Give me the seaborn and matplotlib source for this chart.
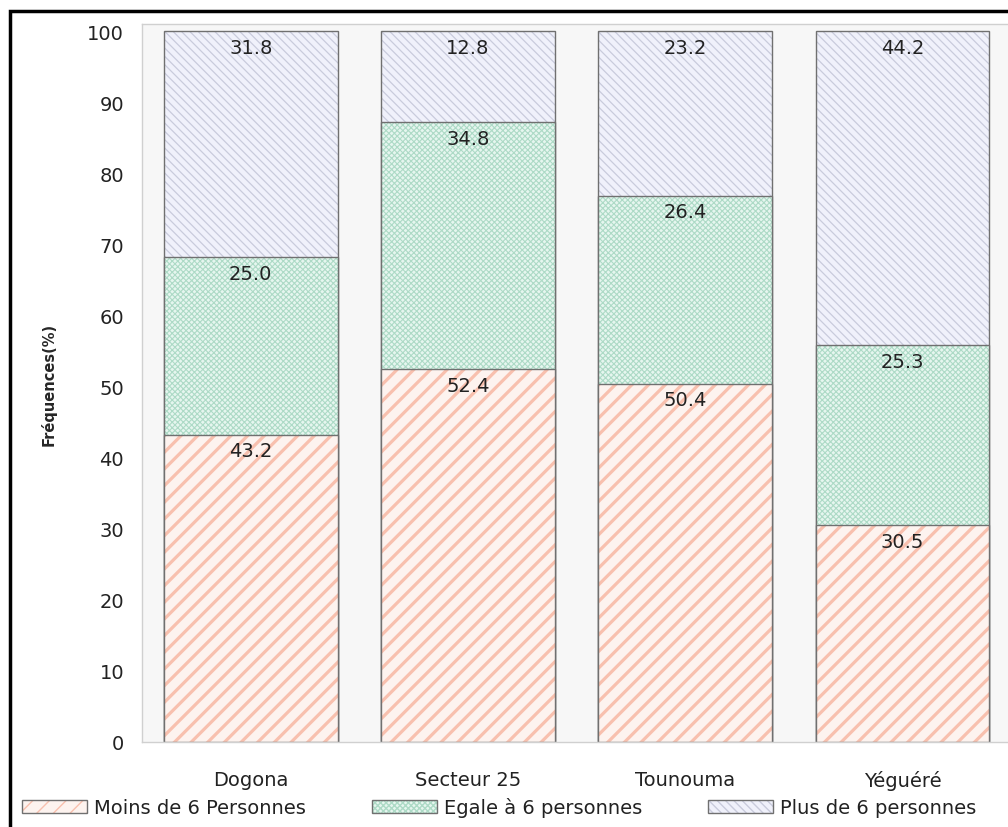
import matplotlib
matplotlib.use("Agg")
import matplotlib.pyplot as plt
from matplotlib.colors import to_rgba
from matplotlib.patches import Patch, Rectangle
import pandas as pd
import seaborn as sns

sites = ["Dogona", "Secteur 25", "Tounouma", "Yéguéré"]
moins_6 = [43.2, 52.4, 50.4, 30.5]
egale_6 = [25.0, 34.8, 26.4, 25.3]
plus_6 = [31.8, 12.8, 23.2, 44.2]
series_names = ["Moins de 6 Personnes", "Egale à 6 personnes", "Plus de 6 personnes"]

df = pd.DataFrame({"site": sites, "moins": moins_6, "egale": egale_6, "plus": plus_6})
df["c1"] = df["moins"]
df["c2"] = df["moins"] + df["egale"]
df["c3"] = df["c2"] + df["plus"]

sns.set_style("white")
plt.rcParams["font.family"] = ["DejaVu Sans"]

fig = plt.figure(figsize=(10.08, 8.28), dpi=100)
ax = fig.add_axes([0.141, 0.1027, 0.862, 0.8671])
ax.set_facecolor("#f7f7f7")

# (column, face, hatch colour, hatch, hatch width)
styles = [
    ("c3", "#f0f1fb", "#c9cbdc", "\\\\\\\\", 0.9),
    ("c2", "#e6f6ef", "#addaC6", "xxxxxx", 0.8),
    ("c1", "#fdf3ef", "#f8c0ae", "//", 2.3),
]
for col, face, hcol, hatch, hw in styles:
    sns.barplot(data=df, x="site", y=col, color=face, width=0.8, ax=ax,
                edgecolor="#707070", linewidth=1.0, saturation=1)
n = len(sites)
for i, (col, face, hcol, hatch, hw) in enumerate(styles):
    for p in ax.patches[i * n:(i + 1) * n]:
        p.set_facecolor(face)
        p.set_hatch(hatch)
        p._hatch_color = to_rgba(hcol)
        try:
            p.set_hatch_linewidth(hw)
        except AttributeError:
            pass

# value labels at the top of each segment
for j in range(n):
    for top, val in [(df["c1"][j], moins_6[j]), (df["c2"][j], egale_6[j]), (df["c3"][j], plus_6[j])]:
        ax.text(j, top - 0.9, f"{val:.1f}", ha="center", va="top", fontsize=14, color="#222222")

ax.set_ylim(0, 101)
ax.set_xlim(-0.5, 3.5)
ax.set_yticks(range(0, 101, 10))
ax.tick_params(axis="y", length=4, color="#bbbbbb", labelsize=14, labelcolor="#222222", pad=9)
ax.tick_params(axis="x", length=0, labelsize=14, labelcolor="#222222", pad=20)
ax.set_xlabel("")
ax.set_ylabel("Fréquences(%)", fontsize=10.5, fontweight="bold", labelpad=22)
for s in ax.spines.values():
    s.set_color("#d0d0d0")
    s.set_linewidth(1.0)

handles = []
for (col, face, hcol, hatch, hw), name in zip(styles[::-1], series_names):
    h = Patch(facecolor=face, edgecolor="#707070", hatch=hatch, label=name)
    h._hatch_color = to_rgba(hcol)
    handles.append(h)
fig.legend(handles=handles, loc="center left", bbox_to_anchor=(22 / 1008, 0.024), ncol=3, frameon=False,
           fontsize=14, handlelength=3.35, handleheight=0.65, columnspacing=3.4, handletextpad=0.35,
           borderpad=0, borderaxespad=0, labelcolor="#222222")

fig.patches.append(Rectangle((10 / 1008, -0.1), 1.2, (828 - 12) / 828 + 0.1, transform=fig.transFigure,
                             fill=False, edgecolor="black", linewidth=2.5))

fig.savefig("out.png", dpi=100)
plt.close(fig)
